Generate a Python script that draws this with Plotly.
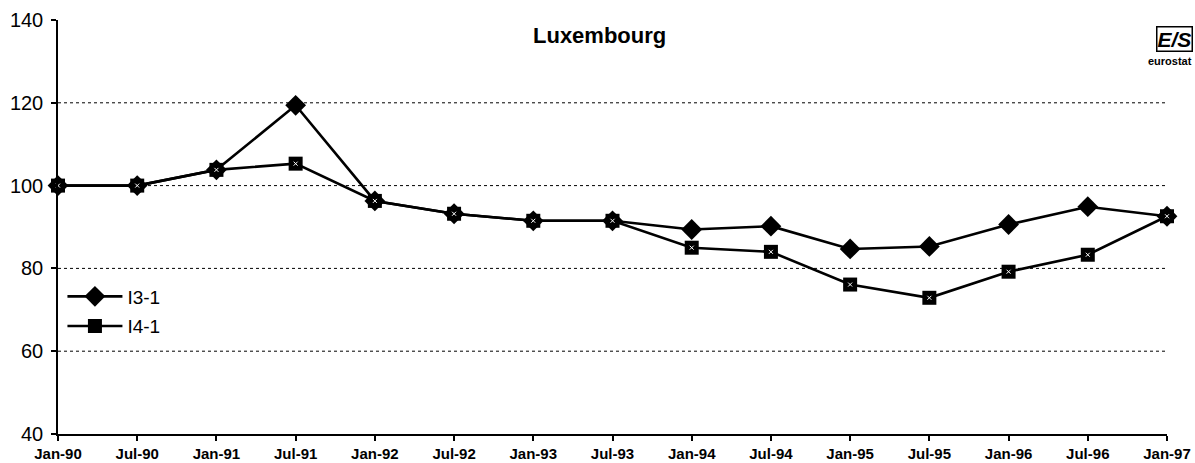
import plotly.graph_objects as go

# Half-yearly periods
periods = ["Jan-90", "Jul-90", "Jan-91", "Jul-91", "Jan-92", "Jul-92", "Jan-93", "Jul-93",
           "Jan-94", "Jul-94", "Jan-95", "Jul-95", "Jan-96", "Jul-96", "Jan-97"]

# Index series (Jan-90 = 100)
i3_1 = [100.0, 100.0, 103.8, 119.4, 96.3, 93.2, 91.5, 91.5,
        89.4, 90.2, 84.7, 85.3, 90.6, 94.9, 92.6]
i4_1 = [100.0, 100.0, 103.8, 105.3, 96.3, 93.2, 91.5, 91.5,
        85.0, 84.0, 76.1, 72.9, 79.2, 83.3, 92.6]

y_ticks = [40, 60, 80, 100, 120, 140]
grid_levels = [60, 80, 100, 120]

x_idx = list(range(len(periods)))

fig = go.Figure()

fig.add_trace(go.Scatter(
    x=x_idx, y=i3_1, name="I3-1", mode="lines+markers", legendgroup="a",
    line=dict(color="black", width=2.6),
    marker=dict(symbol="diamond", size=16, color="black"),
    cliponaxis=False,
))
fig.add_trace(go.Scatter(
    x=x_idx, y=i4_1, name="I4-1", mode="lines+markers", legendgroup="b",
    line=dict(color="black", width=2.6),
    marker=dict(symbol="square", size=14, color="black"),
    cliponaxis=False,
))
# speckled centre of the square markers
fig.add_trace(go.Scatter(
    x=x_idx, y=i4_1, mode="markers", showlegend=False, hoverinfo="skip",
    marker=dict(symbol="x-thin", size=4, color="white",
                line=dict(color="white", width=1)),
    cliponaxis=False,
))

# dotted horizontal gridlines
for g in grid_levels:
    fig.add_shape(type="line", xref="paper", yref="y", x0=0, x1=1, y0=g, y1=g,
                  line=dict(color="black", width=1, dash="dot"), layer="below")

fig.update_layout(
    width=1195, height=463,
    margin=dict(l=58, r=28, t=20, b=29, autoexpand=False),
    paper_bgcolor="white", plot_bgcolor="white",
    font=dict(family="Liberation Sans, Arial, sans-serif", color="black"),
    showlegend=True,
    legend=dict(x=0.004, y=0.378, xanchor="left", yanchor="top",
                bgcolor="rgba(0,0,0,0)", font=dict(size=19),
                itemwidth=55, tracegroupgap=2),
    annotations=[
        dict(text="<b>Luxembourg</b>", xref="paper", yref="paper", x=0.488, y=0.963,
             xanchor="center", yanchor="middle", showarrow=False, font=dict(size=22)),
        dict(text="<b><i>E/S</i></b>", xref="paper", yref="paper", x=1.0235, y=0.953,
             xanchor="right", yanchor="middle", showarrow=False,
             font=dict(size=21), bordercolor="black", borderwidth=1.5, borderpad=0),
        dict(text="<b>eurostat</b>", xref="paper", yref="paper", x=1.0245, y=0.9,
             xanchor="right", yanchor="middle", showarrow=False, font=dict(size=11)),
    ],
)

fig.update_xaxes(
    range=[0, len(periods) - 1], tickmode="array", tickvals=x_idx,
    ticktext=[f"<b>{p}</b>" for p in periods], automargin=False,
    showgrid=False, zeroline=False, showline=True, linecolor="black", linewidth=1.5,
    ticks="outside", ticklen=5, tickcolor="black", tickwidth=1.5,
    tickfont=dict(size=15),
)
fig.update_yaxes(
    range=[40, 140], tickmode="array", tickvals=y_ticks, automargin=False,
    showgrid=False, zeroline=False, showline=True, linecolor="black", linewidth=1.5,
    ticks="outside", ticklen=5, tickcolor="black", tickwidth=1.5,
    tickfont=dict(size=20), ticklabelstandoff=4,
)

fig.write_html("out.html")
